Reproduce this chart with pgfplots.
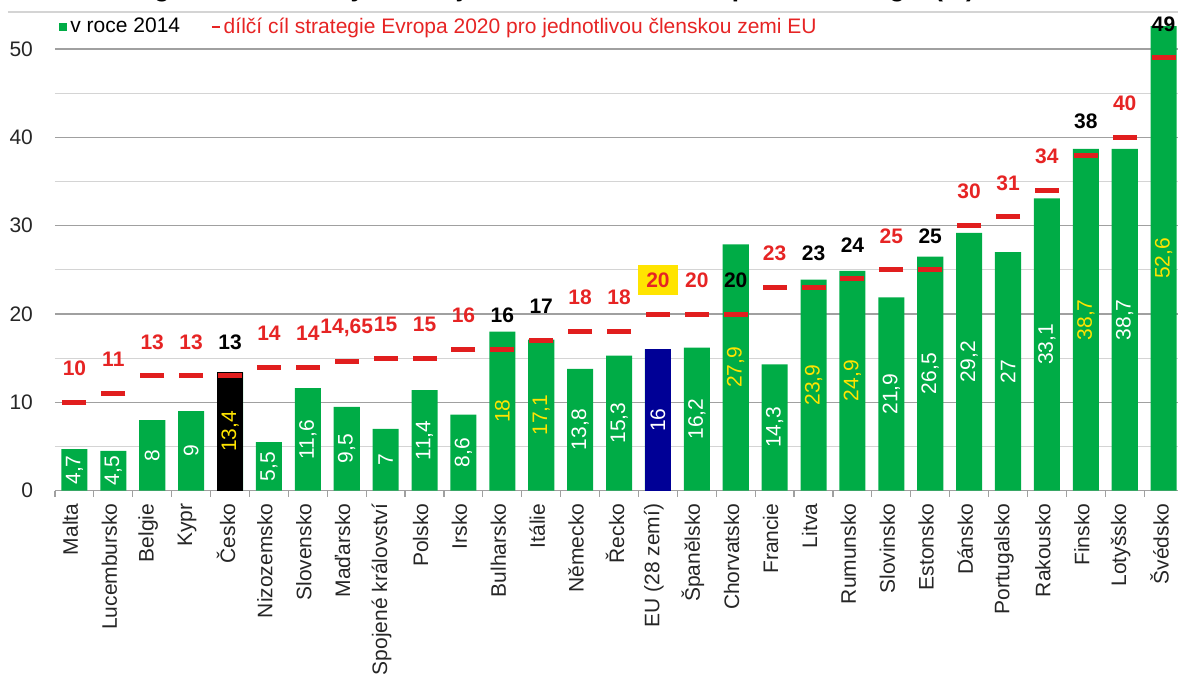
\documentclass[border=0pt]{standalone}
\usepackage{fontspec}
\setmainfont{Liberation Sans}
\usepackage{pgfplots}
\usepackage{pgfplotstable}
\pgfplotsset{compat=1.18}
\definecolor{barg}{RGB}{0,172,70}
\definecolor{barb}{RGB}{0,0,150}
\definecolor{tred}{RGB}{230,36,36}
\definecolor{dred}{RGB}{225,30,30}
\definecolor{vyel}{RGB}{255,228,0}
\definecolor{majg}{RGB}{160,160,160}
\definecolor{ming}{RGB}{212,212,212}

% vc: 0 white value label, 1 yellow; tc: 0 red target label, 1 black, 2 red on yellow box
\pgfplotstableread{
x val tgt vl tl vc tc
0 4.7 10 4,7 10 0 0
1 4.5 11 4,5 11 0 0
2 8 13 8 13 0 0
3 9 13 9 13 0 0
4 13.4 13 13,4 13 1 1
5 5.5 14 5,5 14 0 0
6 11.6 14 11,6 14 0 0
7 9.5 14.65 9,5 14,65 0 0
8 7 15 7 15 0 0
9 11.4 15 11,4 15 0 0
10 8.6 16 8,6 16 0 0
11 18 16 18 16 1 1
12 17.1 17 17,1 17 1 1
13 13.8 18 13,8 18 0 0
14 15.3 18 15,3 18 0 0
15 16 20 16 20 0 2
16 16.2 20 16,2 20 0 0
17 27.9 20 27,9 20 1 1
18 14.3 23 14,3 23 0 0
19 23.9 23 23,9 23 1 1
20 24.9 24 24,9 24 1 1
21 21.9 25 21,9 25 0 0
22 26.5 25 26,5 25 0 1
23 29.2 30 29,2 30 0 0
24 27 31 27 31 0 0
25 33.1 34 33,1 34 0 0
26 38.7 38 38,7 38 1 1
27 38.7 40 38,7 40 0 0
28 52.6 49 52,6 49 1 1
}\data

\pgfplotsset{
  vlab/.style={draw=none, forget plot, nodes near coords, point meta=explicit symbolic,
    every node near coord/.append style={anchor=center, rotate=90, text=#1,
      font=\fontsize{10.5}{12}\selectfont}},
  tlab/.style={draw=none, forget plot, nodes near coords, point meta=explicit symbolic,
    every node near coord/.append style={anchor=center, yshift=17pt, text=#1,
      inner xsep=4pt, inner ysep=4pt, font=\bfseries\fontsize{10.5}{12}\selectfont}},
}

\begin{document}
\begin{tikzpicture}
\begin{axis}[
  scale only axis, width=561.5pt, height=239.35pt,
  xmin=-0.5, xmax=28.37, ymin=0, ymax=54.2,
  axis line style={draw=none},
  ytick={0,10,...,50}, minor ytick={5,15,...,45},
  ymajorgrids, yminorgrids,
  major grid style={draw=majg, line width=0.6pt},
  minor grid style={draw=ming, line width=0.6pt},
  major tick length=0pt,
  minor tick length=3pt,
  tick align=outside,
  xtick pos=bottom, ytick pos=left,
  xtick={0,...,28},
  minor xtick={-0.5,0.5,...,27.5},
  minor x tick style={draw=majg, line width=0.6pt},
  minor y tick style={draw=none},
  xticklabels={Malta,Lucembursko,Belgie,Kypr,Česko,Nizozemsko,Slovensko,Maďarsko,Spojené království,Polsko,Irsko,Bulharsko,Itálie,Německo,Řecko,EU (28 zemí),Španělsko,Chorvatsko,Francie,Litva,Rumunsko,Slovinsko,Estonsko,Dánsko,Portugalsko,Rakousko,Finsko,Lotyšsko,Švédsko},
  xticklabel style={xshift=-2pt, yshift=-3pt, rotate=90, anchor=east, font=\fontsize{10.5}{12}\selectfont, text=black!85},
  yticklabel style={font=\fontsize{10.5}{12}\selectfont, text=black!85, xshift=-7.5pt},
  /pgf/number format/assume math mode=true,
  legend style={at={(0,1)}, anchor=west, xshift=2pt, yshift=-7.5pt, draw=none, fill=none, inner sep=0pt,
    font=\fontsize{10.5}{12}\selectfont, nodes={inner sep=1.5pt},
    /tikz/every even column/.append style={column sep=14pt}},
  legend columns=2, legend cell align=left,
  clip=false,
]
\addplot[ybar, bar width=0.67, bar shift=0pt, fill=barg, draw=none,
  legend image code/.code={\fill[barg] (0pt,-2.2pt) rectangle (4pt,2.2pt);}]
  table[x=x,y=val]{\data};
\addlegendentry{v roce 2014}
\addplot[ybar, bar width=0.67, bar shift=0pt, fill=black, draw=none, forget plot] coordinates {(4,13.4)};
\addplot[ybar, bar width=0.67, bar shift=0pt, fill=barb, draw=none, forget plot] coordinates {(15,16)};
\addplot[only marks, mark=-, mark size=6pt, mark options={draw=dred, line width=2.5pt},
  legend image code/.code={\draw[tred, line width=0.8pt] (0pt,0pt) -- (4pt,0pt);}]
  table[x=x,y=tgt]{\data};
\addlegendentry{\textcolor{tred}{dílčí cíl strategie Evropa 2020 pro jednotlivou členskou zemi EU}}
% target labels
\addplot[tlab=tred, restrict expr to domain={\thisrow{tc}}{0:0}] table[x=x,y=tgt,meta=tl]{\data};
\addplot[tlab=black, restrict expr to domain={\thisrow{tc}}{1:1}] table[x=x,y=tgt,meta=tl]{\data};
\addplot[tlab=tred, every node near coord/.append style={fill=vyel}, restrict expr to domain={\thisrow{tc}}{2:2}] table[x=x,y=tgt,meta=tl]{\data};
% value labels
\addplot[vlab=white, restrict expr to domain={\thisrow{vc}}{0:0}] table[x=x, y expr=\thisrow{val}/2, meta=vl]{\data};
\addplot[vlab=vyel, restrict expr to domain={\thisrow{vc}}{1:1}] table[x=x, y expr=\thisrow{val}/2, meta=vl]{\data};
\coordinate (TL) at (rel axis cs:0,1);
\coordinate (TR) at (rel axis cs:1,1);
\coordinate (BL) at (rel axis cs:0,0);
\end{axis}
\draw[draw=ming, line width=0.6pt] ([xshift=-23.5pt]TL) -- (TR);
\node[anchor=base west, inner sep=0pt, font=\bfseries\fontsize{13}{15}\selectfont]
  at ([xshift=-13.5pt, yshift=7.5pt]TL) {Podíl energie z obnovitelných zdrojů na hrubé konečné spotřebě energie (\%)};
\pgfresetboundingbox
\path[use as bounding box] ([xshift=-27.5pt, yshift=-93.65pt]BL) rectangle ([yshift=6pt]TR);
\end{tikzpicture}
\end{document}
